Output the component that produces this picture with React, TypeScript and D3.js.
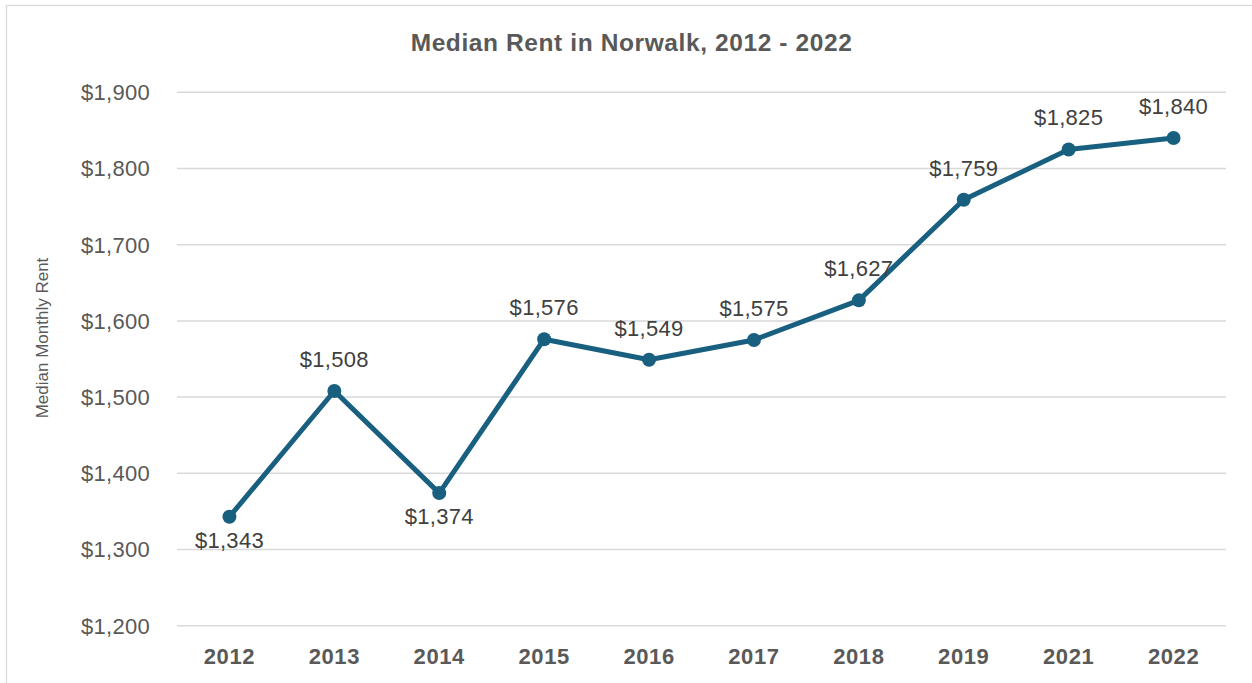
import React, { useEffect } from "react";
import * as d3 from "d3";

const years = ["2012", "2013", "2014", "2015", "2016", "2017", "2018", "2019", "2021", "2022"];
const rents = [1343, 1508, 1374, 1576, 1549, 1575, 1627, 1759, 1825, 1840];
const labelBelow = [true, false, true, false, false, false, false, false, false, false];
const yTicks = [1200, 1300, 1400, 1500, 1600, 1700, 1800, 1900];

const W = 1252;
const H = 683;
const FONT = "'Liberation Sans', Arial, sans-serif";

export default function App() {
  useEffect(() => {
    document.body.style.margin = "0";
  }, []);

  const x = d3.scaleBand<string>().domain(years).range([177, 1226]);
  const y = d3.scaleLinear().domain([1200, 1900]).range([625.7, 92.3]);
  const cx = (d: string) => (x(d) ?? 0) + x.bandwidth() / 2;
  const fmt = (v: number) => "$" + d3.format(",")(v);

  const pts = years.map((yr, i) => ({ yr, v: rents[i], below: labelBelow[i] }));
  const line = d3
    .line<{ yr: string; v: number }>()
    .x((d) => cx(d.yr))
    .y((d) => y(d.v));

  return (
    <svg width={W} height={H} style={{ display: "block" }} fontFamily={FONT}>
      <rect x={0} y={0} width={W} height={H} fill="#fff" />
      <rect x={6.5} y={5.5} width={1300} height={700} fill="none" stroke="#d9d9d9" strokeWidth={1.3} />
      <text x={631.5} y={51} textAnchor="middle" fontSize={24.5} fontWeight="bold" fill="#595959" letterSpacing={0.6}>
        Median Rent in Norwalk, 2012 - 2022
      </text>
      {yTicks.map((t) => (
        <g key={t}>
          <line x1={177} x2={1226} y1={y(t)} y2={y(t)} stroke="#d9d9d9" strokeWidth={1.5} />
          <text x={150} y={y(t)} dy="0.36em" textAnchor="end" fontSize={22} fill="#595959" letterSpacing={0.3}>
            {fmt(t)}
          </text>
        </g>
      ))}
      {years.map((yr) => (
        <text key={yr} x={cx(yr)} y={664} textAnchor="middle" fontSize={22} fontWeight="bold" fill="#595959" letterSpacing={0.6}>
          {yr}
        </text>
      ))}
      <text
        transform={`translate(48,338) rotate(-90)`}
        textAnchor="middle"
        fontSize={17}
        fill="#595959"
      >
        Median Monthly Rent
      </text>
      <path d={line(pts) ?? ""} fill="none" stroke="#185f80" strokeWidth={5} strokeLinejoin="round" />
      {pts.map((p) => (
        <circle key={p.yr} cx={cx(p.yr)} cy={y(p.v)} r={7} fill="#185f80" />
      ))}
      {pts.map((p) => (
        <text
          key={"l" + p.yr}
          x={cx(p.yr)}
          y={p.below ? y(p.v) + 31 : y(p.v) - 24}
          textAnchor="middle"
          fontSize={22}
          fill="#404040"
          letterSpacing={0.3}
        >
          {fmt(p.v)}
        </text>
      ))}
    </svg>
  );
}
